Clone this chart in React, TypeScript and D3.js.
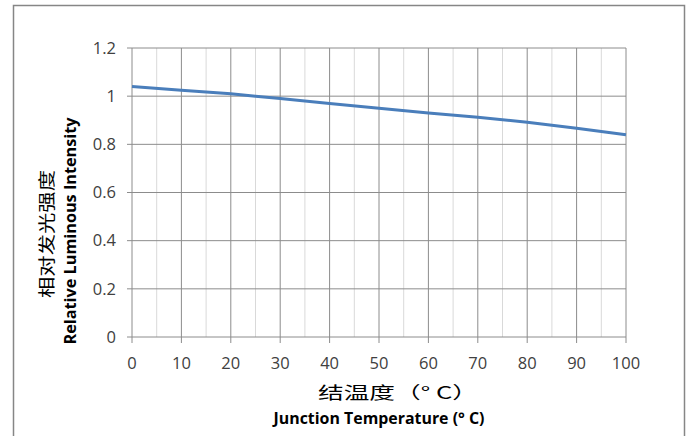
import React from "react";
import * as d3 from "d3";

const temps = [0, 10, 20, 25, 30, 40, 50, 60, 70, 80, 90, 100];
const intensity = [1.04, 1.025, 1.01, 1.0, 0.99, 0.97, 0.95, 0.93, 0.912, 0.892, 0.867, 0.84];
const xTicks = [0, 10, 20, 30, 40, 50, 60, 70, 80, 90, 100];
const xMinorTicks = [5, 15, 25, 35, 45, 55, 65, 75, 85, 95];
const yTicks = [0, 0.2, 0.4, 0.6, 0.8, 1, 1.2];
const xTitleCn = "结温度（°  C）";
const xTitleEn = "Junction Temperature (°  C)";
const yTitleCn = "相对发光强度";
const yTitleEn = "Relative Luminous Intensity";

export default function App() {
  const W = 693, H = 436;
  const x = d3.scaleLinear().domain([0, 100]).range([132, 626]);
  const y = d3.scaleLinear().domain([0, 1.2]).range([337, 48]);
  const font = "'Open Sans', 'Liberation Sans', sans-serif";
  const pts = intensity.map((v, i) => [temps[i], v] as [number, number]);
  const path = d3.line<[number, number]>().x((d) => x(d[0])).y((d) => y(d[1]))(pts) || "";
  return (
    <svg width={W} height={H} style={{ position: "absolute", left: 0, top: 0, background: "#fff" }}>
      <rect x={13.5} y={5.5} width={671} height={440} fill="#fff" stroke="#868686" strokeWidth={1.5} />
      {xMinorTicks.map((t) => (
        <line key={"m" + t} x1={x(t)} x2={x(t)} y1={y(1.2)} y2={y(0)} stroke="#d9d9d9" strokeWidth={1} />
      ))}
      {xTicks.map((t) => (
        <line key={"v" + t} x1={x(t)} x2={x(t)} y1={y(1.2)} y2={y(0) + 6} stroke="#8c8c8c" strokeWidth={1} />
      ))}
      {yTicks.map((t) => (
        <line key={"h" + t} x1={x(0) - 5} x2={x(100)} y1={y(t)} y2={y(t)} stroke="#8c8c8c" strokeWidth={1} />
      ))}
      <path d={path} fill="none" stroke="#4a7ebb" strokeWidth={3} />
      {yTicks.map((t) => (
        <text key={"yl" + t} x={116} y={y(t)} dy="0.35em" textAnchor="end" fontFamily={font} fontSize={16.5} fill="#404040">
          {String(t)}
        </text>
      ))}
      {xTicks.map((t) => (
        <text key={"xl" + t} x={x(t)} y={363} dy="0.35em" textAnchor="middle" fontFamily={font} fontSize={16.5} fill="#404040">
          {String(t)}
        </text>
      ))}
      <text x={398} y={393} dy="0.35em" textAnchor="middle" fontFamily="'Noto Sans CJK SC', sans-serif" fontSize={17} fill="#000" textLength={160} lengthAdjust="spacingAndGlyphs">
        {xTitleCn}
      </text>
      <text x={379} y={419} dy="0.35em" textAnchor="middle" fontFamily={font} fontWeight="bold" fontSize={15.5} fill="#000" textLength={211} lengthAdjust="spacingAndGlyphs">
        {xTitleEn}
      </text>
      <text transform="translate(47,234) rotate(-90)" dy="0.35em" textAnchor="middle" fontFamily="'Noto Sans CJK SC', sans-serif" fontSize={17} fill="#000" textLength={128} lengthAdjust="spacingAndGlyphs">
        {yTitleCn}
      </text>
      <text transform="translate(71,231) rotate(-90)" dy="0.35em" textAnchor="middle" fontFamily={font} fontWeight="bold" fontSize={15.5} fill="#000" textLength={227} lengthAdjust="spacingAndGlyphs">
        {yTitleEn}
      </text>
    </svg>
  );
}
